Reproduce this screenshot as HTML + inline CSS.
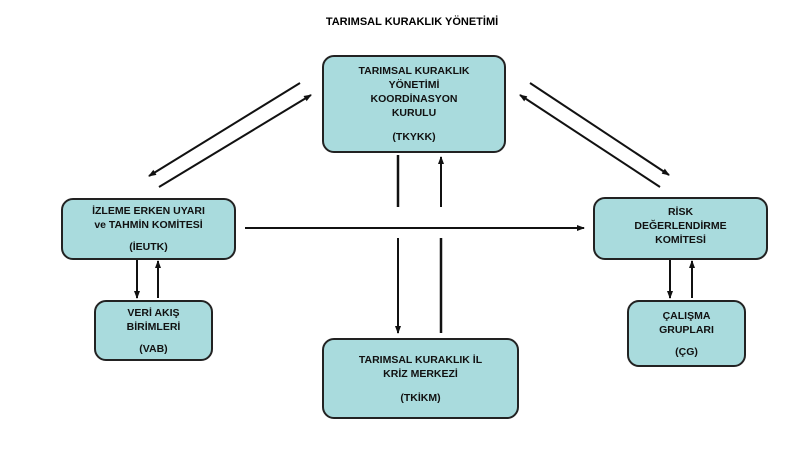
<!DOCTYPE html>
<html><head><style>
body{margin:0;width:800px;height:450px;background:#fff;overflow:hidden;position:relative;font-family:"Liberation Sans","DejaVu Sans",sans-serif}
.b{position:absolute;background:#a9dbdd;border:2px solid #222;border-radius:12px;box-sizing:border-box;display:flex;flex-direction:column;justify-content:center;align-items:center;text-align:center;font-weight:bold;font-size:10.5px;line-height:14px;color:#111}
.t{position:absolute;top:16px;left:0;width:800px;text-align:center;font-weight:bold;font-size:11px}
</style></head><body>
<div class="t" style="left:12px">TARIMSAL KURAKLIK YÖNETİMİ</div>
<svg width="800" height="450" style="position:absolute;left:0;top:0">
<defs><marker id="a" markerWidth="8" markerHeight="8" refX="7" refY="4" orient="auto" markerUnits="userSpaceOnUse"><path d="M0,1 L8,4 L0,7z" fill="#111"/></marker></defs>
<g stroke="#111" stroke-width="2" fill="none" marker-end="url(#a)">
<line x1="300" y1="83" x2="149" y2="176"/>
<line x1="159" y1="187" x2="311" y2="95"/>
<line x1="530" y1="83" x2="669" y2="175"/>
<line x1="660" y1="187" x2="520" y2="95"/>
<line x1="245" y1="228" x2="584" y2="228"/>
<line x1="398" y1="238" x2="398" y2="333"/>
<line x1="441" y1="207" x2="441" y2="157"/>
<line x1="137" y1="260" x2="137" y2="298"/>
<line x1="158" y1="298" x2="158" y2="261"/>
<line x1="670" y1="260" x2="670" y2="298"/>
<line x1="692" y1="298" x2="692" y2="261"/>
</g>
<g stroke="#111" stroke-width="2.5"><line x1="398" y1="155" x2="398" y2="207"/><line x1="441" y1="238" x2="441" y2="333"/></g>
</svg>
<div class="b" style="left:322px;top:55px;width:184px;height:98px">TARIMSAL KURAKLIK<br>YÖNETİMİ<br>KOORDİNASYON<br>KURULU<div style="height:10px"></div>(TKYKK)</div>
<div class="b" style="left:61px;top:198px;width:175px;height:62px">İZLEME ERKEN UYARI<br>ve TAHMİN KOMİTESİ<div style="height:8px"></div>(İEUTK)</div>
<div class="b" style="left:593px;top:197px;width:175px;height:63px;justify-content:flex-start;padding-top:6px">RİSK<br>DEĞERLENDİRME<br>KOMİTESİ</div>
<div class="b" style="left:94px;top:300px;width:119px;height:61px">VERİ AKIŞ<br>BİRİMLERİ<div style="height:8px"></div>(VAB)</div>
<div class="b" style="left:627px;top:300px;width:119px;height:67px">ÇALIŞMA<br>GRUPLARI<div style="height:8px"></div>(ÇG)</div>
<div class="b" style="left:322px;top:338px;width:197px;height:81px">TARIMSAL KURAKLIK İL<br>KRİZ MERKEZİ<div style="height:10px"></div>(TKİKM)</div>
</body></html>
